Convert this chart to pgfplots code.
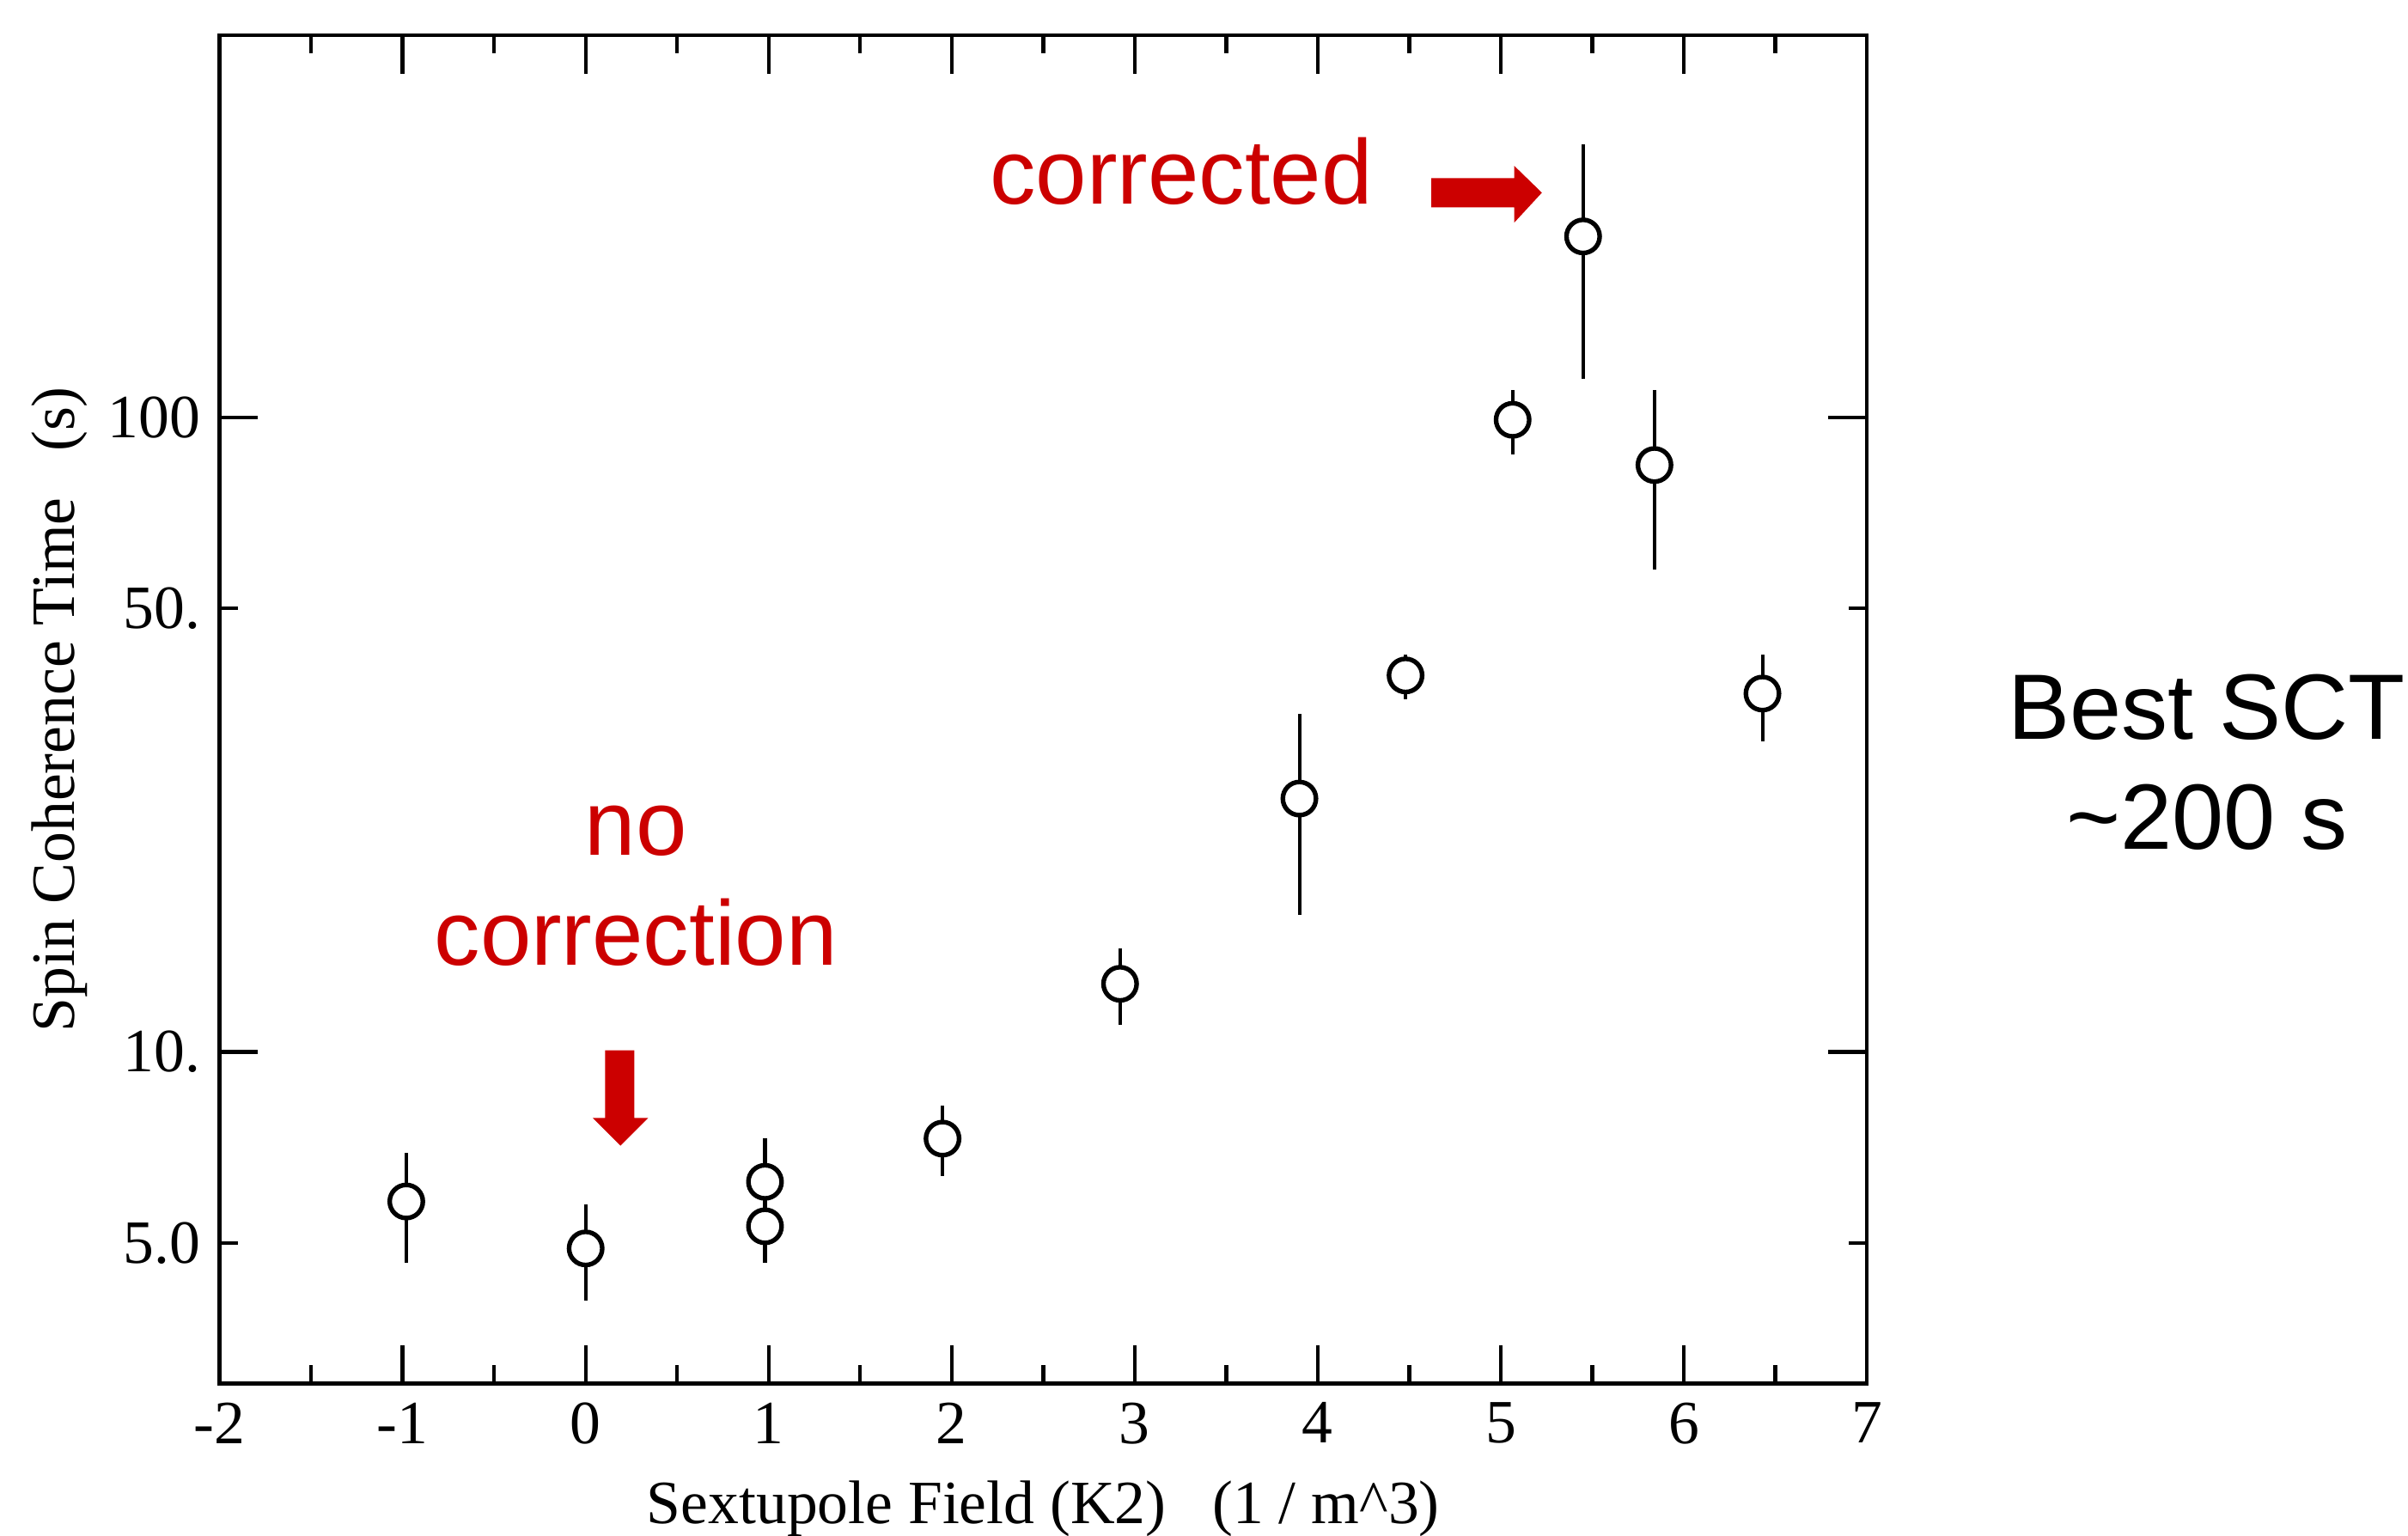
\documentclass[border=0pt]{standalone}
\usepackage{fontspec}
\setmainfont{Liberation Serif}
\newfontfamily\arial{Liberation Sans}
\usepackage{pgfplots}
\usepackage{pgfplotstable}
\pgfplotsset{compat=1.18}
\definecolor{annred}{RGB}{204,0,0}

\pgfplotstableread{
x      y       ep     em
-0.98  5.81    1.12   1.16
0.00   4.90    0.85   0.85
0.98   6.24    1.07   0.85
0.98   5.31    0.85   0.66
1.95   7.30    0.93   0.93
2.92   12.80   1.77   1.78
3.90   25.07   8.98   8.61
4.48   39.2    3.1    3.3
5.065  99.1    11.3   11.6
5.45   192.8   76.6   78.0
5.84   84.1    26.3   26.5
6.43   36.7    5.6    5.8
}\sctdata

\begin{document}
\begin{tikzpicture}
\useasboundingbox (-14.3mm,-9.9mm) rectangle (142.5mm,90.1mm);
\begin{axis}[
  at={(0,0)}, anchor=south west,
  scale only axis, width=107.26mm, height=87.8mm,
  xmin=-2, xmax=7,
  ymode=log, ymin=3, ymax=400,
  xtick={-2,-1,0,1,2,3,4,5,6,7},
  xticklabels={-2,-1,0,1,2,3,4,5,6,7},
  minor x tick num=1,
  ytick={10,100}, yticklabels={10.,100},
  extra y ticks={5,50}, extra y tick labels={5.0,50.},
  extra y tick style={major tick length=1.2mm},
  yminorticks=false,
  xtick pos=both, ytick pos=both,
  xticklabel pos=lower, yticklabel pos=left,
  tick align=inside,
  major tick length=2.5mm, minor tick length=1.2mm,
  every tick/.style={line width=0.7pt, black},
  axis line style={line width=0.7pt, black},
  tick label style={font=\fontsize{11.4}{13}\selectfont},
  label style={font=\fontsize{11.4}{13}\selectfont},
  xlabel={Sextupole Field (K2)\ \ \ (1 / m\textasciicircum 3)},
  ylabel={Spin Coherence Time\ \ \ (s)},
  xlabel style={at={(axis description cs:0.5,-0.1036)}, anchor=base},
  ylabel style={at={(axis description cs:-0.0881,0.5)}, anchor=base},
  clip=false,
]
\addplot[only marks, black, mark=*, mark size=1.08mm,
  mark options={line width=0.85pt, fill=white, draw=black, solid},
  error bars/.cd, y dir=both, y explicit,
  error bar style={line width=0.65pt, black}, error mark=none]
  table[x=x, y=y, y error plus=ep, y error minus=em] {\sctdata};
\end{axis}
% annotations (frame lower-left at origin)
\node[anchor=base west, inner sep=0, text=annred, font=\arial\fontsize{17}{20.4}\selectfont] at (50.1mm,76.8mm) {corrected};
\fill[annred] (78.9mm,78.5mm) -- (84.3mm,78.5mm) -- (84.3mm,79.3mm) -- (86.1mm,77.55mm) -- (84.3mm,75.6mm) -- (84.3mm,76.6mm) -- (78.9mm,76.6mm) -- cycle;
\node[anchor=base, inner sep=0, text=annred, font=\arial\fontsize{17}{20.4}\selectfont] at (27.1mm,34.43mm) {no};
\node[anchor=base, inner sep=0, text=annred, font=\arial\fontsize{17}{20.4}\selectfont] at (27.1mm,27.24mm) {correction};
\fill[annred] (25.1mm,21.7mm) -- (27.0mm,21.7mm) -- (27.0mm,17.3mm) -- (27.9mm,17.3mm) -- (26.1mm,15.5mm) -- (24.3mm,17.3mm) -- (25.1mm,17.3mm) -- cycle;
\node[anchor=base, inner sep=0, font=\arial\fontsize{17.2}{20.4}\selectfont] at (129.4mm,41.94mm) {Best SCT};
\node[anchor=base, inner sep=0, font=\arial\fontsize{17.2}{20.4}\selectfont] at (129.4mm,34.8mm) {\textasciitilde 200 s};
\end{tikzpicture}
\end{document}
